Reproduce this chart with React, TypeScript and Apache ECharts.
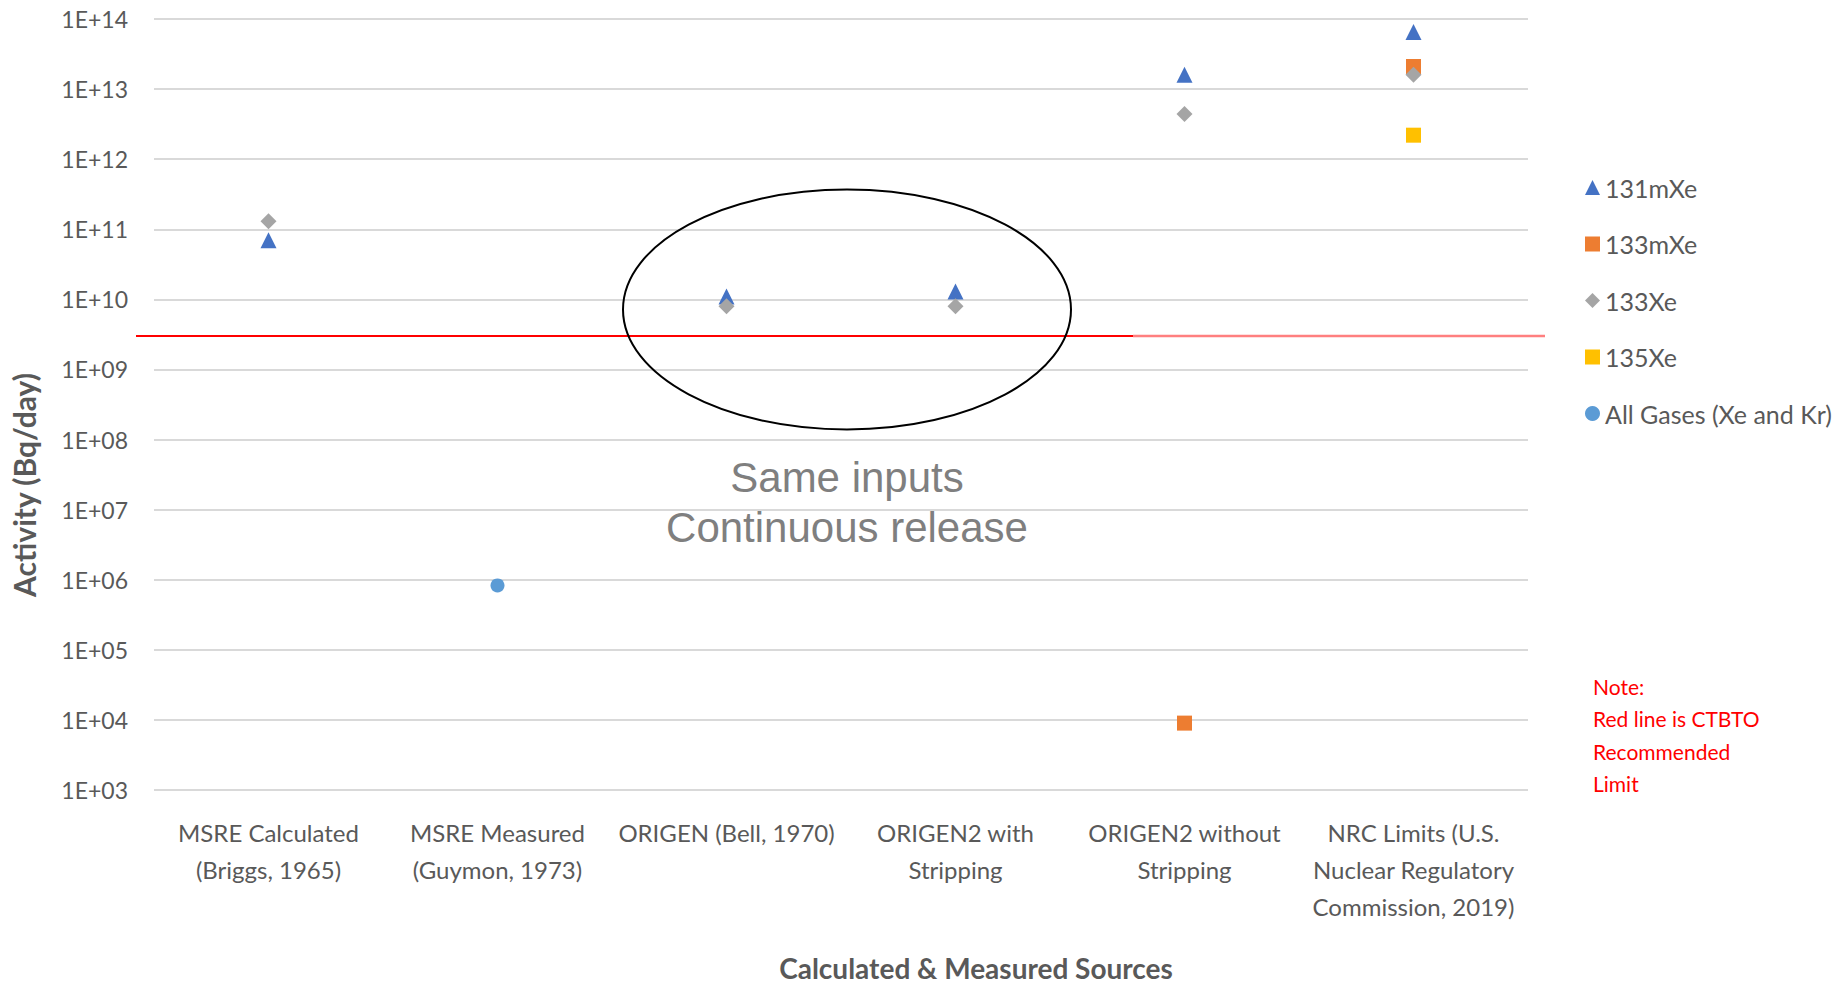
import React, { useEffect, useRef } from "react";
import * as echarts from "echarts";

const categories = [
  "MSRE Calculated\n(Briggs, 1965)",
  "MSRE Measured\n(Guymon, 1973)",
  "ORIGEN (Bell, 1970)",
  "ORIGEN2 with\nStripping",
  "ORIGEN2 without\nStripping",
  "NRC Limits (U.S.\nNuclear Regulatory\nCommission, 2019)",
];

const xe131m = [7e10, "-", 1.1e10, 1.3e10, 1.6e13, 6.5e13];
const xe133m = ["-", "-", "-", "-", 9e3, 2.1e13];
const xe133 = [1.3e11, "-", 8e9, 8e9, 4.4e12, 1.6e13];
const xe135 = ["-", "-", "-", "-", "-", 2.2e12];
const allGases = ["-", 8.3e5, "-", "-", "-", "-"];

const ctbtoLimit = 3e9;
const yMin = 1e3;
const yMax = 1e14;

const noteLines = ["Note:", "Red line is CTBTO", "Recommended", "Limit"];
const annotationLines = ["Same inputs", "Continuous release"];

const FONT = "Lato";
const GRAY = "#595959";

export default function App() {
  const ref = useRef<HTMLDivElement>(null);

  useEffect(() => {
    document.body.style.margin = "0";
    if (!ref.current) return;
    const chart = echarts.init(ref.current, undefined, { renderer: "svg" });

    const mk = (name: string, data: any[], symbol: string, size: number, color: string) => ({
      name,
      type: "scatter",
      data,
      symbol,
      symbolSize: size,
      itemStyle: { color, opacity: 1 },
    });

    chart.setOption({
      animation: false,
      backgroundColor: "#ffffff",
      grid: { left: 154, right: 319, top: 19, bottom: 194, containLabel: false },
      xAxis: {
        type: "category",
        data: categories,
        axisLine: { show: false },
        axisTick: { show: false },
        splitLine: { show: false },
        axisLabel: {
          interval: 0,
          margin: 24,
          color: GRAY,
          fontFamily: FONT,
          fontSize: 24,
          lineHeight: 37,
        },
      },
      yAxis: {
        type: "log",
        logBase: 10,
        min: yMin,
        max: yMax,
        interval: 1,
        axisLine: { show: false },
        axisTick: { show: false },
        minorTick: { show: false },
        splitLine: { show: true, lineStyle: { color: "#D9D9D9", width: 2 } },
        axisLabel: {
          margin: 26,
          color: GRAY,
          fontFamily: FONT,
          fontSize: 23,
          formatter: (v: number) => {
            const e = Math.round(Math.log10(v));
            return "1E+" + (e < 10 ? "0" + e : String(e));
          },
        },
      },
      legend: {
        orient: "vertical",
        left: 1580,
        top: 170,
        itemWidth: 15,
        itemHeight: 15,
        itemGap: 31.5,
        textStyle: { color: GRAY, fontFamily: FONT, fontSize: 25, lineHeight: 25 },
        data: ["131mXe", "133mXe", "133Xe", "135Xe", "All Gases (Xe and Kr)"],
      },
      series: [
        mk("131mXe", xe131m, "triangle", 16, "#4472C4"),
        mk("133mXe", xe133m, "rect", 15, "#ED7D31"),
        mk("133Xe", xe133, "diamond", 16, "#A5A5A5"),
        mk("135Xe", xe135, "rect", 15, "#FFC000"),
        mk("All Gases (Xe and Kr)", allGases, "circle", 14, "#5B9BD5"),
      ],
    });

    const yLine = chart.convertToPixel({ yAxisIndex: 0 }, ctbtoLimit) as number;

    chart.setOption({
      graphic: [
        {
          type: "line",
          shape: { x1: 136, y1: yLine, x2: 1133, y2: yLine },
          style: { stroke: "#FF0000", lineWidth: 2 },
          z: 10,
        },
        {
          type: "line",
          shape: { x1: 1133, y1: yLine, x2: 1545, y2: yLine },
          style: { stroke: "#FF7F7F", lineWidth: 2.5 },
          z: 10,
        },
        {
          type: "ellipse",
          shape: { cx: 847, cy: 309.5, rx: 224, ry: 120 },
          style: { fill: "none", stroke: "#000000", lineWidth: 2 },
          z: 11,
        },
        {
          type: "text",
          x: 847,
          y: 452,
          style: {
            text: annotationLines.join("\n"),
            fill: "#7F7F7F",
            fontFamily: "Liberation Sans",
            fontSize: 42,
            lineHeight: 50,
            align: "center",
            verticalAlign: "top",
          },
          z: 11,
        },
        {
          type: "text",
          x: 1593,
          y: 670,
          style: {
            text: noteLines.join("\n"),
            fill: "#FF0000",
            fontFamily: FONT,
            fontSize: 21,
            lineHeight: 32.5,
            align: "left",
            verticalAlign: "top",
          },
        },
        {
          type: "text",
          x: 976,
          y: 968,
          style: {
            text: "Calculated & Measured Sources",
            fill: GRAY,
            fontFamily: FONT,
            fontSize: 28,
            fontWeight: "bold",
            align: "center",
            verticalAlign: "middle",
          },
        },
        {
          type: "text",
          x: 24,
          y: 485,
          rotation: Math.PI / 2,
          style: {
            text: "Activity (Bq/day)",
            fill: GRAY,
            fontFamily: FONT,
            fontSize: 30,
            fontWeight: "bold",
            align: "center",
            verticalAlign: "middle",
          },
        },
      ],
    });

    return () => chart.dispose();
  }, []);

  return <div ref={ref} style={{ width: 1847, height: 984 }} />;
}
